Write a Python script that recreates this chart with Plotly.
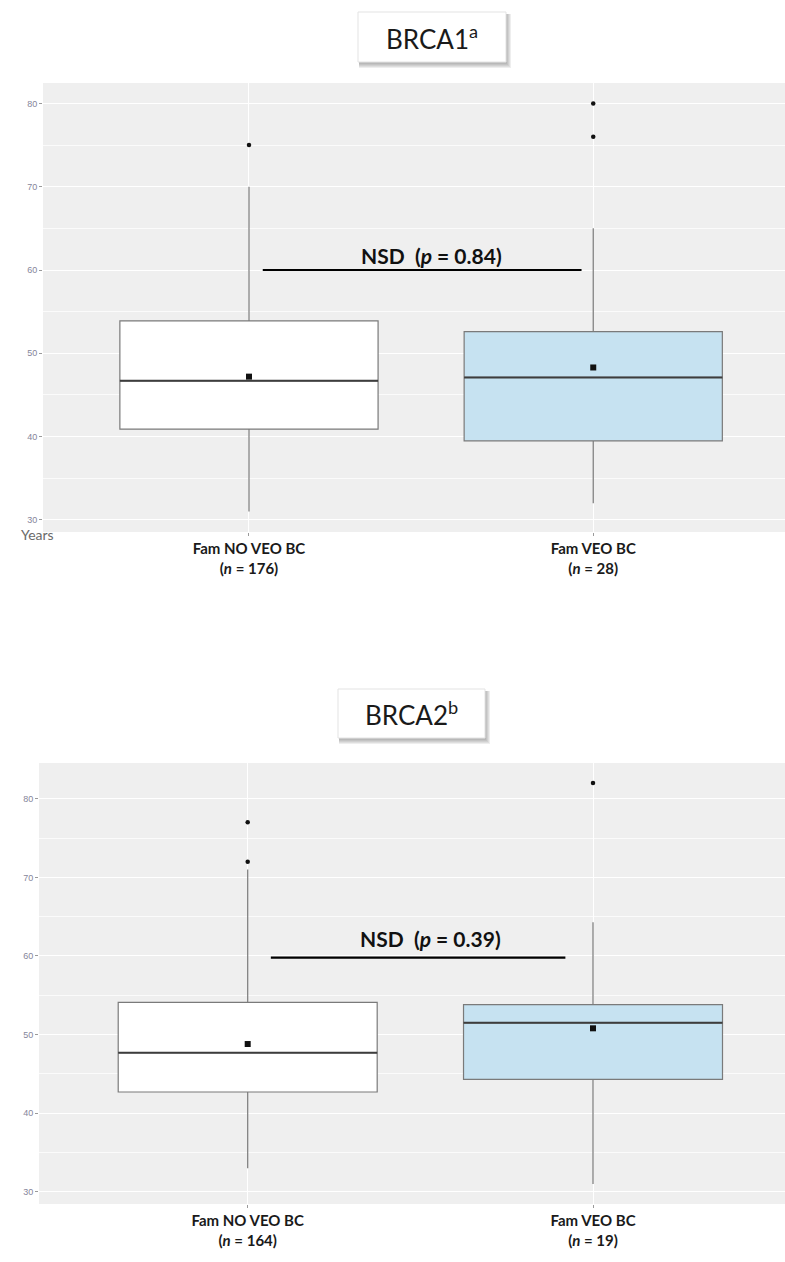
import plotly.graph_objects as go

# ---------------- data ----------------
categories = ["Fam NO VEO BC", "Fam VEO BC"]
n_brca1 = [176, 28]
n_brca2 = [164, 19]

# BRCA1 panel (age in years)
b1_q1 = [40.9, 39.5]
b1_median = [46.7, 47.1]
b1_q3 = [53.9, 52.6]
b1_low = [31, 32]
b1_high = [70, 65]
b1_mean = [47.2, 48.3]
b1_outliers = [[75], [76, 80]]

# BRCA2 panel
b2_q1 = [42.7, 44.3]
b2_median = [47.7, 51.5]
b2_q3 = [54.1, 53.8]
b2_low = [33, 31]
b2_high = [71, 64.3]
b2_mean = [48.8, 50.8]
b2_outliers = [[72, 77], [82]]

panel_titles = ["BRCA1<sup>a</sup>", "BRCA2<sup>b</sup>"]
p_values = [0.84, 0.39]
bracket_y = [60, 59.8]
bracket_x = [[1.04, 1.966], [1.067, 1.92]]
label_y = [61.8, 62.2]

fill_colors = ["#ffffff", "#c6e2f1"]

FONT = "Lato"
fig = go.Figure()

panels = [
    dict(q1=b1_q1, med=b1_median, q3=b1_q3, lo=b1_low, hi=b1_high, mean=b1_mean,
         out=b1_outliers, n=n_brca1, xa="x", ya="y"),
    dict(q1=b2_q1, med=b2_median, q3=b2_q3, lo=b2_low, hi=b2_high, mean=b2_mean,
         out=b2_outliers, n=n_brca2, xa="x2", ya="y2"),
]

BOXW = 0.75
for p in panels:
    for i in range(2):
        xpos = i + 1
        fig.add_trace(go.Box(
            x=[xpos], q1=[p["q1"][i]], median=[p["med"][i]], q3=[p["q3"][i]],
            lowerfence=[p["lo"][i]], upperfence=[p["hi"][i]],
            width=BOXW, whiskerwidth=0, boxpoints=False,
            fillcolor=fill_colors[i], line=dict(color="#7a7a7a", width=1.2),
            showlegend=False, xaxis=p["xa"], yaxis=p["ya"], hoverinfo="skip"))
        # darker median line
        fig.add_trace(go.Scatter(
            x=[xpos - BOXW / 2, xpos + BOXW / 2], y=[p["med"][i], p["med"][i]],
            mode="lines", line=dict(color="#3d3d3d", width=2),
            showlegend=False, xaxis=p["xa"], yaxis=p["ya"], hoverinfo="skip"))
        # mean
        fig.add_trace(go.Scatter(
            x=[xpos], y=[p["mean"][i]], mode="markers",
            marker=dict(symbol="square", size=6, color="#111111"),
            showlegend=False, xaxis=p["xa"], yaxis=p["ya"], hoverinfo="skip"))
        # outliers
        fig.add_trace(go.Scatter(
            x=[xpos] * len(p["out"][i]), y=p["out"][i], mode="markers",
            marker=dict(symbol="circle", size=4.5, color="#111111"),
            showlegend=False, xaxis=p["xa"], yaxis=p["ya"], hoverinfo="skip"))

# significance brackets
for k, p in enumerate(panels):
    fig.add_trace(go.Scatter(
        x=bracket_x[k], y=[bracket_y[k], bracket_y[k]], mode="lines",
        line=dict(color="#000000", width=2.2), showlegend=False,
        xaxis=p["xa"], yaxis=p["ya"], hoverinfo="skip"))
    fig.add_annotation(
        x=1.53, y=label_y[k], xref=p["xa"], yref=p["ya"],
        xanchor="center", yanchor="middle",
        text=f"<b>NSD  (<i>p</i> = {p_values[k]:.2f})</b>", showarrow=False,
        font=dict(family=FONT, size=21, color="#111111"))


def yrange(p):
    lo = min(min(p["lo"]), min(min(o) for o in p["out"]))
    hi = max(max(p["hi"]), max(max(o) for o in p["out"]))
    pad = 0.05 * (hi - lo)
    return [lo - pad, hi + pad]


H = 1262.0
W = 785.0
ydoms = [[1 - 532 / H, 1 - 83 / H], [1 - 1204 / H, 1 - 763 / H]]
xdoms = [[43 / W, 1.0], [39 / W, 1.0]]
xranges = [[0.4017, 2.557], [0.3956, 2.556]]

layout_axes = {}
for k, p in enumerate(panels):
    ticktext = [f"<b>{categories[i]}</b><br><b>(<i>n</i> = {p['n'][i]})</b>" for i in range(2)]
    xname = "xaxis" if k == 0 else "xaxis2"
    yname = "yaxis" if k == 0 else "yaxis2"
    layout_axes[xname] = dict(
        domain=xdoms[k], range=xranges[k], anchor=p["ya"],
        tickvals=[1, 2], ticktext=ticktext,
        tickfont=dict(family=FONT, size=15, color="#1a1a1a"),
        ticks="outside", ticklen=3, tickcolor="#9a9a9a",
        showgrid=True, gridcolor="#ffffff", gridwidth=1.2,
        zeroline=False, showline=False, fixedrange=True)
    layout_axes[yname] = dict(
        domain=ydoms[k], range=yrange(p), anchor=p["xa"],
        tick0=0, dtick=10, ticks="outside", ticklen=3, tickcolor="#9a9a9a",
        tickfont=dict(family="Liberation Sans", size=9, color="#85859a"),
        showgrid=True, gridcolor="#ffffff", gridwidth=1.2,
        minor=dict(tick0=5, dtick=10, showgrid=True, gridcolor="#fbfbfb", gridwidth=0.8),
        zeroline=False, showline=False, fixedrange=True)

fig.update_layout(
    width=785, height=1262,
    margin=dict(l=0, r=0, t=0, b=0),
    paper_bgcolor="#ffffff", plot_bgcolor="#efefef",
    showlegend=False, **layout_axes)

# title boxes with soft shadow
title_boxes = [(358, 506, 12, 62), (338, 485, 689, 738)]
shapes = []
for (x0, x1, y0, y1) in title_boxes:
    for s in range(5, 0, -1):
        shapes.append(dict(type="rect", xref="paper", yref="paper",
                           x0=(x0 + 1) / W, x1=(x1 + s) / W,
                           y0=1 - (y1 + s + 1) / H, y1=1 - (y0 + 2) / H,
                           fillcolor="rgba(90,90,90,0.10)", line=dict(width=0), layer="above"))
    shapes.append(dict(type="rect", xref="paper", yref="paper",
                       x0=x0 / W, x1=x1 / W, y0=1 - y1 / H, y1=1 - y0 / H,
                       fillcolor="#ffffff", line=dict(color="#e3e3e3", width=1), layer="above"))
fig.update_layout(shapes=shapes)

for k, (x0, x1, y0, y1) in enumerate(title_boxes):
    fig.add_annotation(
        x=(x0 + x1) / 2 / W, y=1 - (y0 + y1) / 2 / H, xref="paper", yref="paper",
        xanchor="center", yanchor="middle",
        text=panel_titles[k], showarrow=False,
        font=dict(family=FONT, size=26, color="#1a1a1a"))

# y-axis unit label
fig.add_annotation(x=37 / W, y=1 - 535 / H, xref="paper", yref="paper",
                   xanchor="center", yanchor="middle",
                   text="Years", showarrow=False,
                   font=dict(family=FONT, size=14, color="#6a6a6a"))

fig.write_html(
    "out.html",
    config={"displayModeBar": False},
    post_script="document.body.style.margin='0';document.body.style.overflow='hidden';")
